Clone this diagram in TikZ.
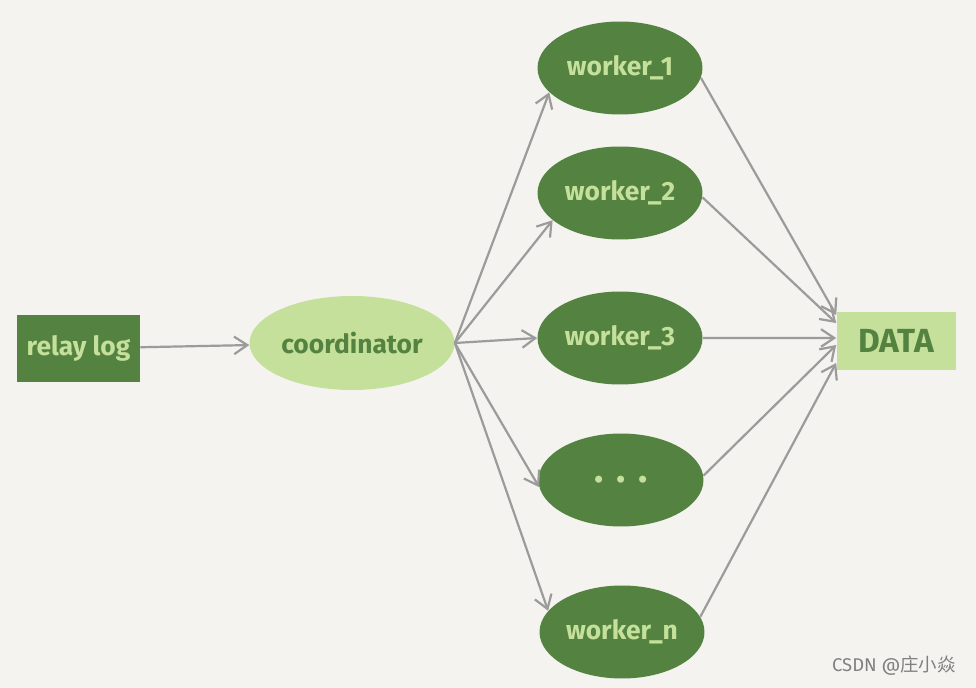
\documentclass[tikz,border=0pt]{standalone}
\usepackage{fontspec}
\setmainfont{Fira Sans}
\newfontfamily\cjkfont{Noto Sans CJK SC}
\usetikzlibrary{arrows.meta,shapes.geometric}

\definecolor{paper}{HTML}{F4F3EF}
\definecolor{darkleaf}{HTML}{548241}
\definecolor{lightleaf}{HTML}{C5E09A}
\definecolor{wire}{HTML}{9B9B9B}

\begin{document}
\begin{tikzpicture}[x=0.02cm,y=-0.02cm,font=\fontsize{15}{18}\selectfont\bfseries]
    \tikzset{
        darkbox/.style={
            rectangle,fill=darkleaf,text=lightleaf,
            minimum width=2.46cm,minimum height=1.34cm,inner sep=0pt
        },
        lightbox/.style={
            rectangle,fill=lightleaf,text=darkleaf,
            minimum width=2.38cm,minimum height=1.16cm,inner sep=0pt
        },
        hub/.style={
            ellipse,fill=lightleaf,text=darkleaf,
            minimum width=4.1cm,minimum height=1.88cm,inner sep=0pt
        },
        worker/.style={
            ellipse,fill=darkleaf,text=lightleaf,
            minimum width=3.3cm,minimum height=1.86cm,inner sep=0pt
        },
        flow/.style={-{Straight Barb[length=7.5pt,width=10pt]},draw=wire,line width=1.25pt}
    }

    % background and page size
    \fill[paper] (0,0) rectangle (976,688);
    \useasboundingbox (0,0) rectangle (976,688);

    \node[darkbox] (relay) at (78.5,348.5) {relay log};
    \node[hub] (coord) at (352,343) {coordinator};

    \node[worker] (w1) at (620,68) {worker\_1};
    \node[worker] (w2) at (620,193) {worker\_2};
    \node[worker] (w3) at (620,338) {worker\_3};
    \node[worker,font=\fontsize{22}{22}\selectfont\bfseries] (wdots) at (621,480) {.\,\,.\,\,.};
    \node[worker] (wn) at (622,632) {worker\_n};

    \node[lightbox,font=\fontsize{19}{22}\selectfont\bfseries] (data) at (896,341) {DATA};

    \draw[flow] (relay) -- (coord);
    % node / angle in / angle out / height on DATA
    \foreach \w/\ain/\aout/\dy in {w1/199/-7/0.52cm, w2/202/-3/0.36cm, w3/180/0/0.06cm,
                                   wdots/185/3.5/-0.08cm, wn/164/11/-0.44cm}{
        \draw[flow] (coord.east) -- (\w.\ain);
        \draw[flow] (\w.\aout) -- ([yshift=\dy]data.west);
    }

    \node[font=\fontsize{10.5}{12}\selectfont,text=black!50,anchor=east] (mark) at (962,666)
        {CSDN @{\cjkfont 庄小焱}};
\end{tikzpicture}
\end{document}
